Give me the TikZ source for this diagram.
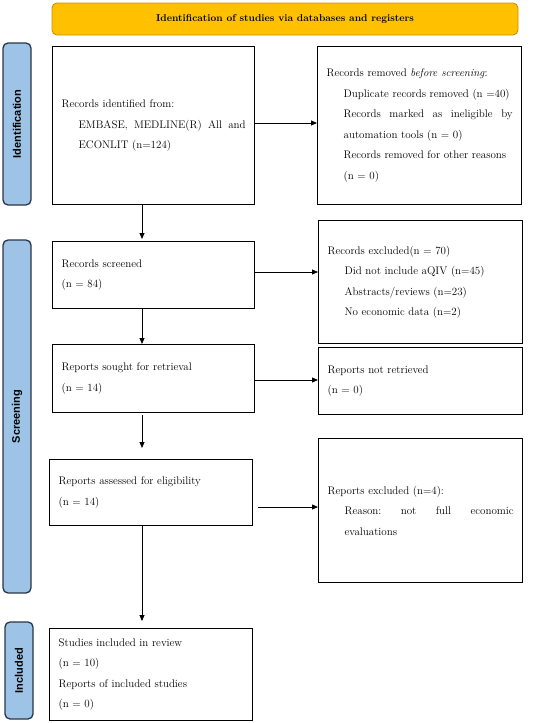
\documentclass[tikz,border=0pt]{standalone}
\usepackage{fontspec}
\newfontfamily\labfont{Liberation Sans}
\usetikzlibrary{arrows.meta}
\definecolor{banner}{HTML}{FFC000}
\definecolor{bannerline}{HTML}{C99400}
\definecolor{side}{HTML}{9DC3E6}
\definecolor{sideline}{HTML}{2A3548}
\newcommand\subline[1]{\par{\leftskip=17pt\relax #1\par}}
\begin{document}
\begin{tikzpicture}[x=1pt,y=-1pt,
  box/.style={draw=black,line width=1.3pt,anchor=north west,inner xsep=9pt,inner ysep=0pt,
    align=justify,font=\fontsize{11}{20.5}\selectfont},
  sidelab/.style={draw=sideline,fill=side,line width=1.3pt,rounded corners=5pt,rotate=90,
    minimum height=28pt,inner sep=0pt,font=\labfont\bfseries\fontsize{11}{12}\selectfont},
  arr/.style={line width=0.8pt,-{Triangle[length=6pt,width=5pt]}}]
\path[use as bounding box] (0,0) rectangle (550,723);

\node[draw=bannerline,fill=banner,line width=0.9pt,rounded corners=5pt,minimum width=466pt,
  minimum height=32pt,font=\bfseries\fontsize{10}{12}\selectfont] (ban) at (285,19)
  {Identification of studies via databases and registers};

\node[sidelab,minimum width=162pt] (sid) at (17,124) {Identification};
\node[sidelab,minimum width=353pt] (ssc) at (17,416.5) {Screening};
\node[sidelab,minimum width=97pt] (sin) at (19,670.5) {Included};

\node[box,text width=184pt,minimum height=158pt] (b1) at (52,46)
  {Records identified from:\subline{EMBASE, MEDLINE(R) All and\linebreak ECONLIT (n=124)}};
\node[box,text width=186pt,minimum height=158pt] (r1) at (317,46)
  {Records removed \textit{before screening}:\subline{Duplicate records removed (n =40)\newline
   Records marked as ineligible by\linebreak automation tools (n = 0)\newline
   Records removed for other reasons\newline (n = 0)}};

\node[box,text width=184pt,minimum height=67pt] (b2) at (52,241)
  {Records screened\newline (n = 84)};
\node[box,text width=186pt,minimum height=123pt] (r2) at (318,220)
  {Records excluded(n = 70)\subline{Did not include aQIV (n=45)\newline
   Abstracts/reviews (n=23)\newline No economic data (n=2)}};

\node[box,text width=184pt,minimum height=68pt] (b3) at (52,344)
  {Reports sought for retrieval\newline (n = 14)};
\node[box,text width=186pt,minimum height=67pt] (r3) at (318,347)
  {Reports not retrieved\newline (n = 0)};

\node[box,text width=185pt,minimum height=66pt] (b4) at (49,459)
  {Reports assessed for eligibility\newline (n = 14)};
\node[box,text width=186pt,minimum height=144pt] (r4) at (318,438)
  {Reports excluded (n=4):\subline{Reason:\ \ not\ \ full\ \ economic\linebreak evaluations}};

\node[box,text width=185pt,minimum height=92pt] (b5) at (49,628)
  {Studies included in review\newline (n = 10)\newline Reports of included studies\newline (n = 0)};

\coordinate (ax) at (142,0);
\coordinate (y1) at (0,123);
\coordinate (y2) at (0,272);
\coordinate (y3) at (0,380);
\coordinate (y4) at (0,507);

\draw[arr,shorten >=2pt] (b1.south -| ax) -- (b2.north -| ax);
\draw[arr] (b2.south -| ax) -- (b3.north -| ax);
\draw[arr,shorten <=2pt,shorten >=11pt] (b3.south -| ax) -- (b4.north -| ax);
\draw[arr,shorten >=7pt] (b4.south -| ax) -- (b5.north -| ax);

\draw[arr] (b1.east |- y1) -- (r1.west |- y1);
\draw[arr] (b2.east |- y2) -- (r2.west |- y2);
\draw[arr] (b3.east |- y3) -- (r3.west |- y3);
\draw[arr,shorten <=5pt] (b4.east |- y4) -- (r4.west |- y4);
\end{tikzpicture}
\end{document}
